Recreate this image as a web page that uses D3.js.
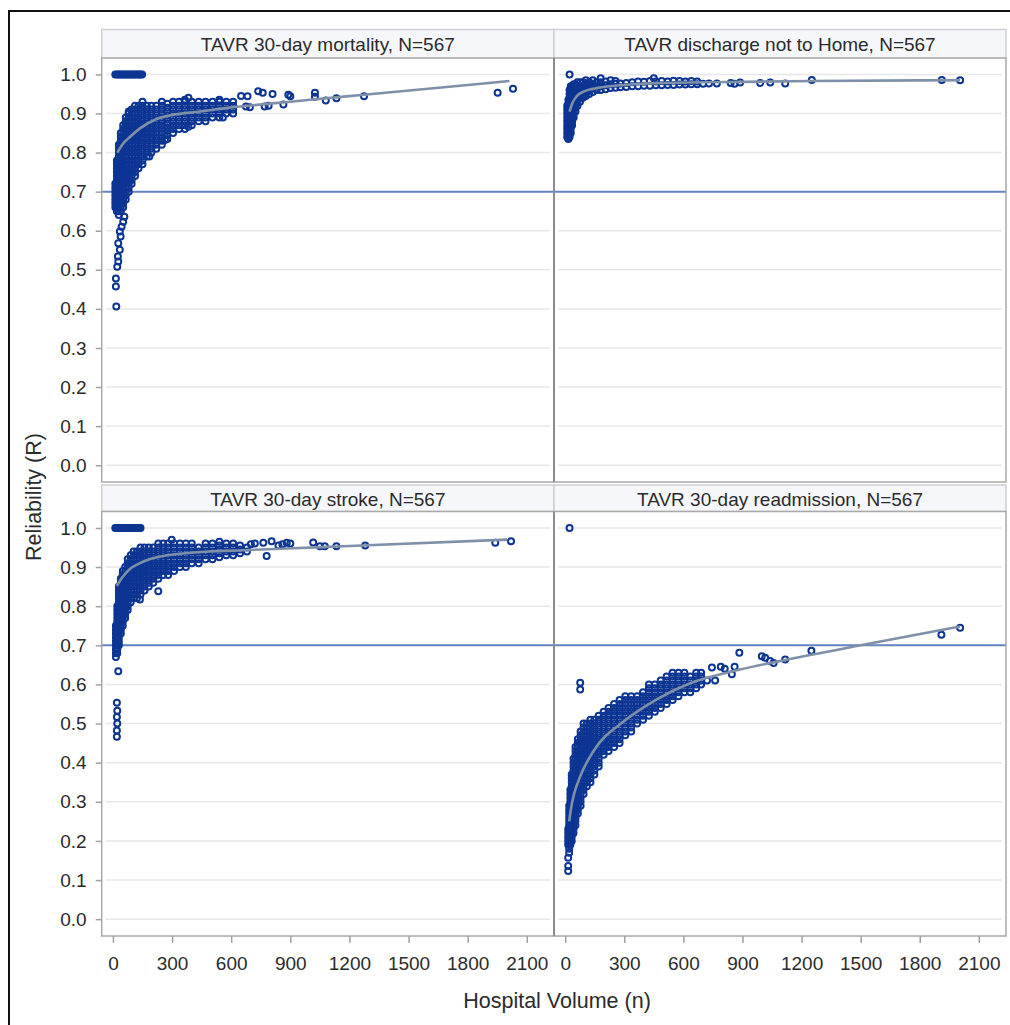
<!DOCTYPE html>
<html><head><meta charset="utf-8">
<script src="https://cdn.jsdelivr.net/npm/d3@7"></script>
<style>
body{margin:0;background:#fff}
text{font-family:"Liberation Sans",Arial,sans-serif;fill:#2b2b2b}
</style>
</head><body>
<svg id="chart" width="1010" height="1025"></svg>
<script>
// ---------------- DATA ----------------
const panelTitles = ["TAVR 30-day mortality, N=567","TAVR discharge not to Home, N=567","TAVR 30-day stroke, N=567","TAVR 30-day readmission, N=567"];
const xTicks = [0,300,600,900,1200,1500,1800,2100];
const yTicks = [0.0,0.1,0.2,0.3,0.4,0.5,0.6,0.7,0.8,0.9,1.0];
const refValue = 0.7;
const xAxisTitle = "Hospital Volume (n)";
const yAxisTitle = "Reliability (R)";

// hospitals with reliability 1.0 (volume)
const mortalityOnes = [12,20,28,36,44,52,60,68,76,84,92,100,108,116,124,132,140,148];
const strokeOnes = [12,20,28,36,44,52,60,68,76,84,92,100,108,116,124,132,140];
const dischargeOnes = [22];
const readmissionOnes = [22];

// [hospital volume, [reliability x 100, ...]]
const mortalityCols = [
 [17,[40.6]],[15,[45.7,47.8]],[22,[50.8]],[27,[52.1,56.8]],[25,[53.4]],[35,[55.1,59.8]],[39,[58.5]],[44,[61]],[52,[62.3]],[58,[63.6]],
 [12,[66,67,68,69,70,71,72]],
 [20,[65,66,67,68,69,70,71,72,73,74,75,76,77,78]],
 [30,[64,65,66,67,68,69,70,71,72,73,74,75,76,77,78,79,80,81,82]],
 [40,[65,66,67,68,69,70,71,72,73,74,75,76,77,78,79,80,81,82,83,84,85]],
 [52,[66,67,68,69,70,71,72,73,74,75,76,77,78,79,80,81,82,83,84,85,86,87]],
 [65,[68,69,70,71,72,73,74,75,76,77,78,79,80,81,82,83,84,85,86,87,88,89]],
 [80,[70,71,72,73,74,75,76,77,78,79,80,81,82,83,84,85,86,87,88,89,90,90.5]],
 [95,[72,73,74,75,76,77,78,79,80,81,82,83,84,85,86,87,88,89,90,91]],
 [112,[74,75,76,77,78,79,80,81,82,83,84,85,86,87,88,89,90,91,92]],
 [130,[76,77,78,79,80,81,82,83,84,85,86,87,88,89,90,91,92]],
 [150,[77,78,79,80,81,82,83,84,85,86,87,88,89,90,91,92,93]],
 [172,[79,80,81,82,83,84,85,86,87,88,89,90,91,92]],
 [195,[80,81,82,83,84,85,86,87,88,89,90,91,92]],
 [220,[81,82,83,84,85,86,87,88,89,90,91,92]],
 [248,[82,83,84,85,86,87,88,89,90,91,92,93]],
 [276,[83.5,84.5,85.5,86.5,87.5,88.5,89.5,90.5,91.5,92.5]],
 [305,[85,86,87,88,89,90,91,92,93]],
 [335,[86,87,88,89,90,91,92,93]],
 [365,[86,87,88,89,90,91,92,93,93.5]],
 [400,[87,88,89,90,91,92,93]],
 [435,[88,89,90,91,92,93]],
 [470,[88,89,90,91,92,93]],
 [505,[89,90,91,92,93]],
 [540,[89,90,91,92,93,93.5]],
 [575,[90,91,92,93]],
 [610,[90,91,92,93]],
 [383,[86.6,94]],[264,[83.2]],[185,[79]],[558,[89]],[695,[91.6]],
 [650,[94.5]],[675,[91.8]],[683,[94.4]],[737,[95.7]],[760,[95.3]],[770,[91.8]],[790,[92]],
 [810,[95]],[865,[92.3]],[890,[94.8]],[900,[94.4]],[1025,[95.3,94.3]],[1080,[93.3]],
 [1134,[93.9]],[1274,[94.4]],[1952,[95.3]],[2030,[96.3]]
];

const dischargeCols = [
 [10,[84,85,86,87,88,89,90,91,92]],
 [16,[83.5,84.5,85.5,86.5,87.5,88.5,89.5,90.5,91.5,92.5,93.5]],
 [22,[84,85,86,87,88,89,90,91,92,93,94,95,96]],
 [28,[85,86,87,88,89,90,91,92,93,94,95,96,97]],
 [35,[87,88,89,90,91,92,93,94,95,96,97]],
 [43,[89,90,91,92,93,94,95,96,97,97.5]],
 [52,[90.5,91.5,92.5,93.5,94.5,95.5,96.5,97.5]],
 [62,[92,93,94,95,96,97,98]],
 [75,[93,94,95,96,97,98]],
 [90,[94,95,96,97,98]],
 [105,[94.5,95.5,96.5,97.5,98.5]],
 [122,[95,96,97,98]],
 [140,[95.5,96.5,97.5,98.5]],
 [160,[96,97,98]],
 [180,[96,97,98,99]],
 [205,[96.2,97.2,98.2]],
 [230,[96.5,97.5,98.5]],
 [255,[96.6,97.6,98.3]],
 [280,[96.7,97.7]],
 [310,[96.8,97.8]],
 [340,[97,98]],
 [370,[97,98.2]],
 [400,[97.1,98.1]],
 [430,[97.1,98.3]],
 [450,[99]],
 [460,[97.2,98.2]],
 [490,[97.2,98.3]],
 [520,[97.3,98.2]],
 [550,[97.3,98.4]],
 [580,[97.4,98.3]],
 [610,[97.4,98.2]],
 [640,[97.5,98.3]],
 [670,[97.5,98.2]],
 [700,[97.6]],
 [730,[97.7]],
 [770,[97.7]],[840,[97.8]],[860,[97.6]],[888,[97.9]],[990,[97.8]],[1041,[97.9]],
 [1117,[97.7]],[1252,[98.6]],[1912,[98.6]],[2005,[98.5]]
];

const strokeCols = [
 [20,[46.6,48.2,51.7,55.3]],[22,[50,53.3]],[27,[63.4]],
 [15,[67,68,69,70,71,72,73,74,75]],
 [22,[68,69,70,71,72,73,74,75,76,77,78,79,80]],
 [30,[70,71,72,73,74,75,76,77,78,79,80,81,82,83,84,85]],
 [40,[73,74,75,76,77,78,79,80,81,82,83,84,85,86,87]],
 [50,[75,76,77,78,79,80,81,82,83,84,85,86,87,88,89]],
 [62,[77,78,79,80,81,82,83,84,85,86,87,88,89,90]],
 [75,[79,80,81,82,83,84,85,86,87,88,89,90,91,92]],
 [90,[81,82,83,84,85,86,87,88,89,90,91,92,93]],
 [105,[82,83,84,85,86,87,88,89,90,91,92,93,94]],
 [122,[82,83,84,85,86,87,88,89,90,91,92,93,94]],
 [140,[83,84,85,86,87,88,89,90,91,92,93,94,95]],
 [160,[84,85,86,87,88,89,90,91,92,93,94,95]],
 [182,[85,86,87,88,89,90,91,92,93,94,95]],
 [205,[86,87,88,89,90,91,92,93,94,95]],
 [230,[87,88,89,90,91,92,93,94,95,96]],
 [255,[88,89,90,91,92,93,94,95,96]],
 [280,[88,89,90,91,92,93,94,95,96]],
 [310,[89,90,91,92,93,94,95,96]],
 [340,[90,91,92,93,94,95,96]],
 [370,[90,91,92,93,94,95,96]],
 [400,[91,92,93,94,95,96]],
 [435,[91,92,93,94,95]],
 [470,[92,93,94,95,96]],
 [505,[92,93,94,95,96]],
 [540,[92.5,93.5,94.5,95.5,96.5]],
 [575,[93,94,95,96]],
 [610,[93,94,95,96]],
 [645,[93.5,94.5,95.5]],
 [680,[94,95]],
 [137,[81.7]],[230,[83.8]],[298,[97]],[700,[95.8]],[720,[96]],[763,[96.2]],[780,[92.8]],
 [805,[96.6]],[840,[95.5]],[860,[95.8]],[882,[96.2]],[900,[96]],[1016,[96.3]],[1050,[95.3]],
 [1075,[95.3]],[1134,[95.3]],[1280,[95.5]],[1940,[96.2]],[2020,[96.6]]
];

const readmissionCols = [
 [15,[12.3,13.6,15.7,19,20,21,22,23]],
 [20,[17,18,19,20,21,22,23,24,25,26,27,28,29]],
 [26,[19,20,21,22,23,24,25,26,27,28,29,30,31,32,33]],
 [33,[20,21,22,23,24,25,26,27,28,29,30,31,32,33,34,35,36,37]],
 [42,[22,23,24,25,26,27,28,29,30,31,32,33,34,35,36,37,38,39,40,41]],
 [52,[24,25,26,27,28,29,30,31,32,33,34,35,36,37,38,39,40,41,42,43,44]],
 [64,[27,28,29,30,31,32,33,34,35,36,37,38,39,40,41,42,43,44,45,46]],
 [78,[29,30,31,32,33,34,35,36,37,38,39,40,41,42,43,44,45,46,47,48]],
 [93,[32,33,34,35,36,37,38,39,40,41,42,43,44,45,46,47,48,49,50]],
 [110,[34,35,36,37,38,39,40,41,42,43,44,45,46,47,48,49,50]],
 [128,[35,36,37,38,39,40,41,42,43,44,45,46,47,48,49,50,51]],
 [148,[37,38,39,40,41,42,43,44,45,46,47,48,49,50,51]],
 [170,[39,40,41,42,43,44,45,46,47,48,49,50,51,52]],
 [195,[42,43,44,45,46,47,48,49,50,51,52,53]],
 [220,[43,44,45,46,47,48,49,50,51,52,53,54]],
 [248,[44,45,46,47,48,49,50,51,52,53,54,55]],
 [276,[45,46,47,48,49,50,51,52,53,54,55,56]],
 [305,[47,48,49,50,51,52,53,54,55,56,57]],
 [335,[48,49,50,51,52,53,54,55,56,57]],
 [365,[50,51,52,53,54,55,56,57]],
 [395,[51,52,53,54,55,56,57,58]],
 [425,[52,53,54,55,56,57,58,59,60]],
 [455,[53,54,55,56,57,58,59,60]],
 [485,[54,55,56,57,58,59,60,61]],
 [515,[55,56,57,58,59,60,61,62]],
 [545,[56,57,58,59,60,61,62,63]],
 [575,[57,58,59,60,61,62,63]],
 [605,[58,59,60,61,62,63]],
 [635,[58,59,60,61,62]],
 [665,[59,60,61,62,63]],
 [690,[60,61,62,63]],
 [76,[58.7,60.4]],[720,[61]],[745,[64.3]],[761,[61]],[790,[64.5]],[810,[64]],[846,[62.6]],
 [860,[64.5]],[884,[68.1]],[998,[67.2]],[1015,[66.8]],[1040,[66]],[1058,[65.5]],[1117,[66.4]],
 [1250,[68.6]],[1910,[72.7]],[2005,[74.5]]
];

// smoothed fit curves: volume / reliability
const mortalityFitVol = [22,50,86,137,222,300,442,590,730,1000,1274,2012];
const mortalityFitRel = [0.80,0.822,0.84,0.862,0.886,0.896,0.905,0.915,0.922,0.935,0.948,0.983];
const dischargeFitVol = [22,35,60,93,140,212,300,380,500,700,900,1250,2005];
const dischargeFitRel = [0.905,0.925,0.945,0.956,0.963,0.969,0.973,0.976,0.978,0.980,0.981,0.983,0.985];
const strokeFitVol = [20,50,86,137,222,306,492,661,914,1168,2000];
const strokeFitRel = [0.852,0.875,0.895,0.91,0.925,0.932,0.94,0.943,0.948,0.953,0.97];
const readmissionFitVol = [20,30,45,76,144,296,465,634,888,1142,1500,2005];
const readmissionFitRel = [0.25,0.285,0.32,0.365,0.43,0.505,0.562,0.603,0.638,0.665,0.70,0.748];

// ---------------- DRAW ----------------
function toPoints(cols, ones){
  const out = [];
  ones.forEach(v => out.push([v, 1.0]));
  cols.forEach(([v, rs]) => rs.forEach(r => out.push([v, r / 100])));
  return out;
}
const panels = [
  {title: panelTitles[0], pts: toPoints(mortalityCols, mortalityOnes), fv: mortalityFitVol, fr: mortalityFitRel, col:0, row:0},
  {title: panelTitles[1], pts: toPoints(dischargeCols, dischargeOnes), fv: dischargeFitVol, fr: dischargeFitRel, col:1, row:0},
  {title: panelTitles[2], pts: toPoints(strokeCols, strokeOnes), fv: strokeFitVol, fr: strokeFitRel, col:0, row:1},
  {title: panelTitles[3], pts: toPoints(readmissionCols, readmissionOnes), fv: readmissionFitVol, fr: readmissionFitRel, col:1, row:1}
];

const svg = d3.select("#chart");
const colX = [101.7, 554];
const colW = [452.3, 452];
const headTop = [29.5, 485];
const plotTop = [58, 511.5];
const plotBot = [482, 936];
const xDomain = [-57, 2238];
const yDomain = [-0.043, 1.042];

// outer frame
svg.append("path").attr("d","M9,1030 L9,11 L1015,11").attr("fill","none").attr("stroke","#111").attr("stroke-width",2);

const defs = svg.append("defs");

panels.forEach((p, i) => {
  const x0 = colX[p.col], w = colW[p.col];
  const top = plotTop[p.row], bot = plotBot[p.row];
  const x = d3.scaleLinear().domain(xDomain).range([x0, x0 + w]);
  const y = d3.scaleLinear().domain(yDomain).range([bot, top]);
  const g = svg.append("g");

  // header
  g.append("rect").attr("x", x0).attr("y", headTop[p.row]).attr("width", w).attr("height", top - headTop[p.row])
    .attr("fill","#f6f7fb").attr("stroke","#cfcfcf").attr("stroke-width",1.5);
  g.append("text").attr("x", x0 + w/2).attr("y", headTop[p.row] + 21).attr("text-anchor","middle")
    .attr("font-size", 19).text(p.title);

  // plot bg
  g.append("rect").attr("x", x0).attr("y", top).attr("width", w).attr("height", bot - top).attr("fill","#fff");

  // gridlines
  g.append("g").selectAll("line").data(yTicks).join("line")
    .attr("x1", x0 + 4).attr("x2", x0 + w - 4)
    .attr("y1", d => y(d)).attr("y2", d => y(d))
    .attr("stroke","#e7e7e7").attr("stroke-width",1.5);

  // reference line
  g.append("line").attr("x1", x0).attr("x2", x0 + w).attr("y1", y(refValue)).attr("y2", y(refValue))
    .attr("stroke","#6384c4").attr("stroke-width",2);

  // clip
  defs.append("clipPath").attr("id","clip"+i).append("rect").attr("x",x0).attr("y",top).attr("width",w).attr("height",bot-top);
  const inner = g.append("g").attr("clip-path","url(#clip"+i+")");

  inner.append("g").selectAll("circle").data(p.pts).join("circle")
    .attr("cx", d => x(d[0])).attr("cy", d => y(d[1])).attr("r", 3)
    .attr("fill","none").attr("stroke","#0c3593").attr("stroke-width",2);

  const line = d3.line().x(d => x(d[0])).y(d => y(d[1])).curve(d3.curveMonotoneX);
  inner.append("path").datum(p.fv.map((v, k) => [v, p.fr[k]])).attr("d", line)
    .attr("fill","none").attr("stroke","#7d90a8").attr("stroke-width",2.6);

  // border
  g.append("rect").attr("x", x0).attr("y", top).attr("width", w).attr("height", bot - top)
    .attr("fill","none").attr("stroke","#a9a9a9").attr("stroke-width",1.5);

  if (p.col === 0) {
    const ax = svg.append("g").attr("transform", `translate(${x0},0)`)
      .call(d3.axisLeft(y).tickValues(yTicks).tickFormat(d3.format(".1f")).tickSize(6).tickPadding(9));
    ax.select(".domain").remove();
    ax.selectAll(".tick line").attr("stroke","#a0a0a0").attr("stroke-width",1.5);
    ax.selectAll(".tick text").attr("font-size",19).attr("font-family",null).style("fill","#2b2b2b");
  }
  if (p.row === 1) {
    const ax = svg.append("g").attr("transform", `translate(0,${bot})`)
      .call(d3.axisBottom(x).tickValues(xTicks).tickFormat(d3.format("d")).tickSize(7).tickPadding(14));
    ax.select(".domain").remove();
    ax.selectAll(".tick line").attr("stroke","#a0a0a0").attr("stroke-width",1.5);
    ax.selectAll(".tick text").attr("font-size",19).attr("font-family",null).style("fill","#2b2b2b");
  }
});

// column divider
svg.append("line").attr("x1",554).attr("x2",554).attr("y1",plotTop[0]).attr("y2",plotBot[0]).attr("stroke","#8c8c8c").attr("stroke-width",2);
svg.append("line").attr("x1",554).attr("x2",554).attr("y1",plotTop[1]).attr("y2",plotBot[1]).attr("stroke","#8c8c8c").attr("stroke-width",2);

// axis titles
svg.append("text").attr("x", 557).attr("y", 1008).attr("text-anchor","middle").attr("font-size",21.5).text(xAxisTitle);
svg.append("text").attr("transform","translate(41,497) rotate(-90)").attr("text-anchor","middle").attr("font-size",21.5).text(yAxisTitle);
</script>
</body></html>
